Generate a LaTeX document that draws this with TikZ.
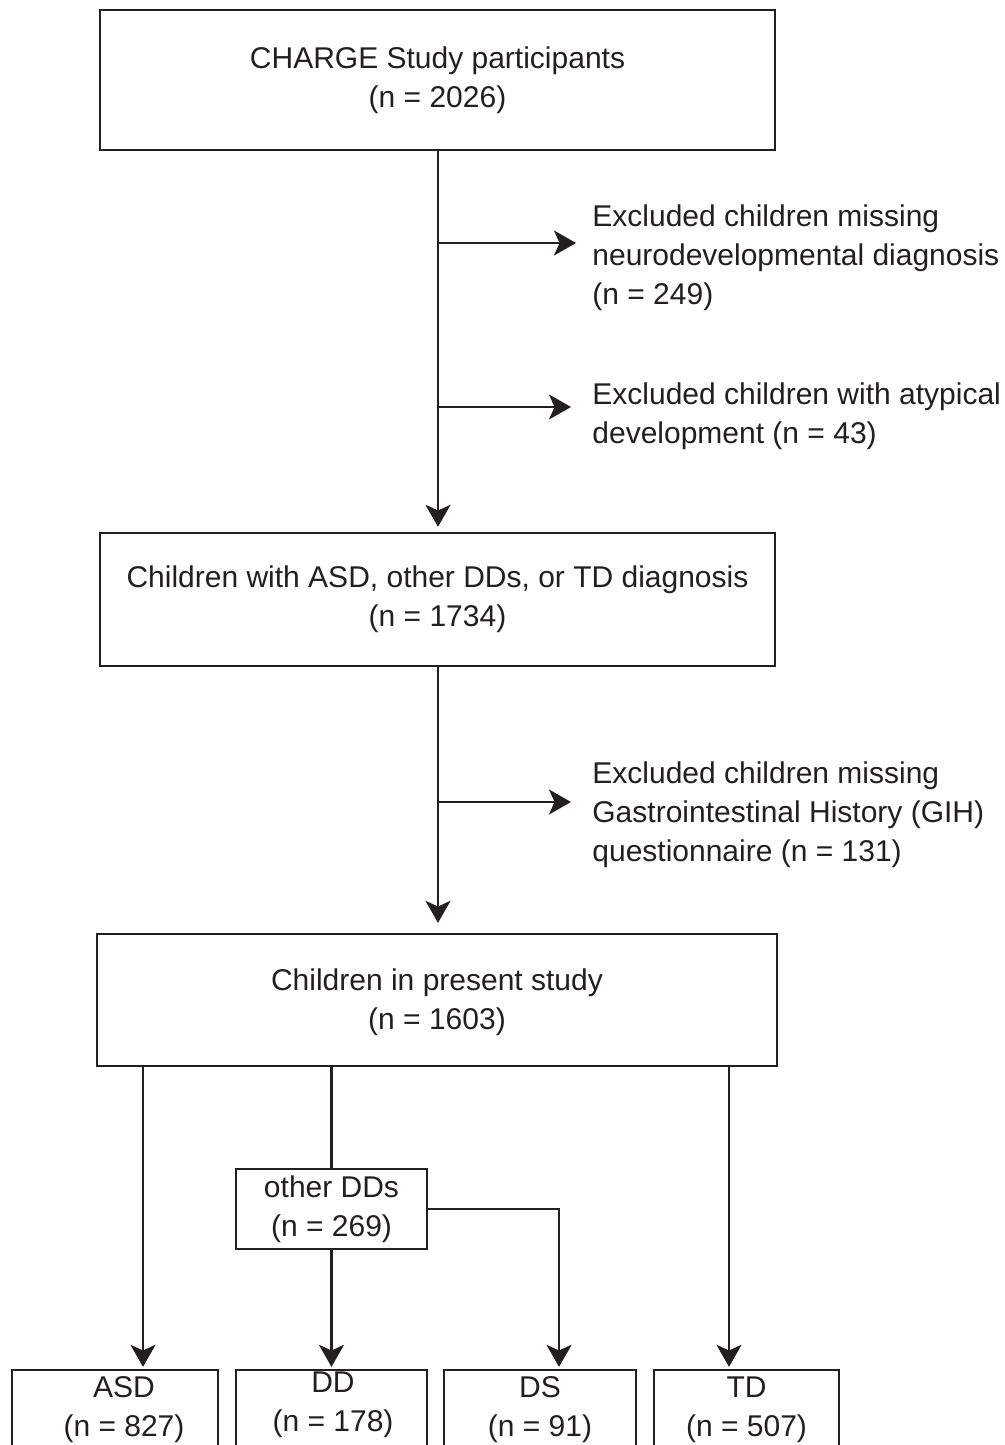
\documentclass[tikz,border=0pt]{standalone}
\usepackage{fontspec}
\setmainfont{Liberation Sans}
\usetikzlibrary{arrows.meta}
\definecolor{ink}{HTML}{231F20}
\begin{document}
\begin{tikzpicture}[x=0.5pt,y=-0.5pt,
  every node/.style={font=\fontsize{15pt}{19.5pt}\selectfont, text=ink},
  box/.style={draw=ink, line width=1.15pt, rectangle, align=center, inner sep=0pt},
  note/.style={align=left, anchor=west, inner sep=0pt},
  ln/.style={draw=ink, line width=1.15pt},
  arr/.style={ln, -{Stealth[length=11pt,width=12.5pt,inset=2.8pt]}}]
\useasboundingbox (0,0) rectangle (1005,1445);
\clip (0,0) rectangle (1005,1445);
\fill[white] (0,0) rectangle (1005,1445);
% main boxes
\node[box, minimum width=675*0.5pt, minimum height=140*0.5pt] (b1) at (437.5,80) {CHARGE Study participants\\(n = 2026)};
\node[box, minimum width=675*0.5pt, minimum height=133*0.5pt] (b2) at (437.5,599.5) {Children with ASD, other DDs, or TD diagnosis\\(n = 1734)};
\node[box, minimum width=680*0.5pt, minimum height=132*0.5pt] (b3) at (437,1000) {};
\node (b3t) at (437,1002) [align=center, inner sep=0pt] {Children in present study\\(n = 1603)};
% exclusion notes
\node[note] (e1) at (592,258) {Excluded children missing\\neurodevelopmental diagnosis\\(n = 249)};
\node[note] (e2) at (592,416) {Excluded children with atypical\\development (n = 43)};
\node[note] (e3) at (592,815) {Excluded children missing\\Gastrointestinal History (GIH)\\questionnaire (n = 131)};
% sub box
\node[box, minimum width=191*0.5pt, minimum height=80*0.5pt] (oth) at (331.5,1209) {other DDs\\(n = 269)};
% bottom boxes
\node[box, minimum width=206*0.5pt, minimum height=80*0.5pt] (asd) at (115,1410) {\hspace*{9pt}ASD\\\hspace*{9pt}(n = 827)};
\node[box, minimum width=191*0.5pt, minimum height=80*0.5pt] (dd) at (331.5,1410) {};
\node (ddt) at (333,1405) [align=center, inner sep=0pt] {DD\\(n = 178)};
\node[box, minimum width=192*0.5pt, minimum height=80*0.5pt] (ds) at (540,1410) {DS\\(n = 91)};
\node[box, minimum width=185*0.5pt, minimum height=80*0.5pt] (td) at (746.5,1410) {TD\\(n = 507)};
% helper coordinates
\coordinate (j1) at (438,243);
\coordinate (t1) at (576,243);
\coordinate (j2) at (438,407);
\coordinate (t2) at (571,407);
\coordinate (j3) at (438,802);
\coordinate (t3) at (571,802);
\coordinate (asdx) at (143,1300);
\coordinate (dsx) at (559,1300);
\coordinate (tdx) at (729,1300);
% connectors
\draw[arr, shorten >=2.5pt] (b1.south -| j1) -- (b2.north -| j1);
\draw[arr] (j1) -- (t1);
\draw[arr] (j2) -- (t2);
\draw[arr, shorten >=5pt] (b2.south -| j3) -- (b3.north -| j3);
\draw[arr] (j3) -- (t3);
\draw[arr, shorten >=1pt] (b3.south -| asdx) -- (asd.north -| asdx);
\draw[ln] (b3.south -| oth.north) -- (oth.north);
\draw[arr, shorten >=1pt] (oth.south) -- (dd.north);
\draw[arr, shorten >=1pt] (oth.east) -| (ds.north -| dsx);
\draw[arr, shorten >=1pt] (b3.south -| tdx) -- (td.north -| tdx);
\end{tikzpicture}
\end{document}
